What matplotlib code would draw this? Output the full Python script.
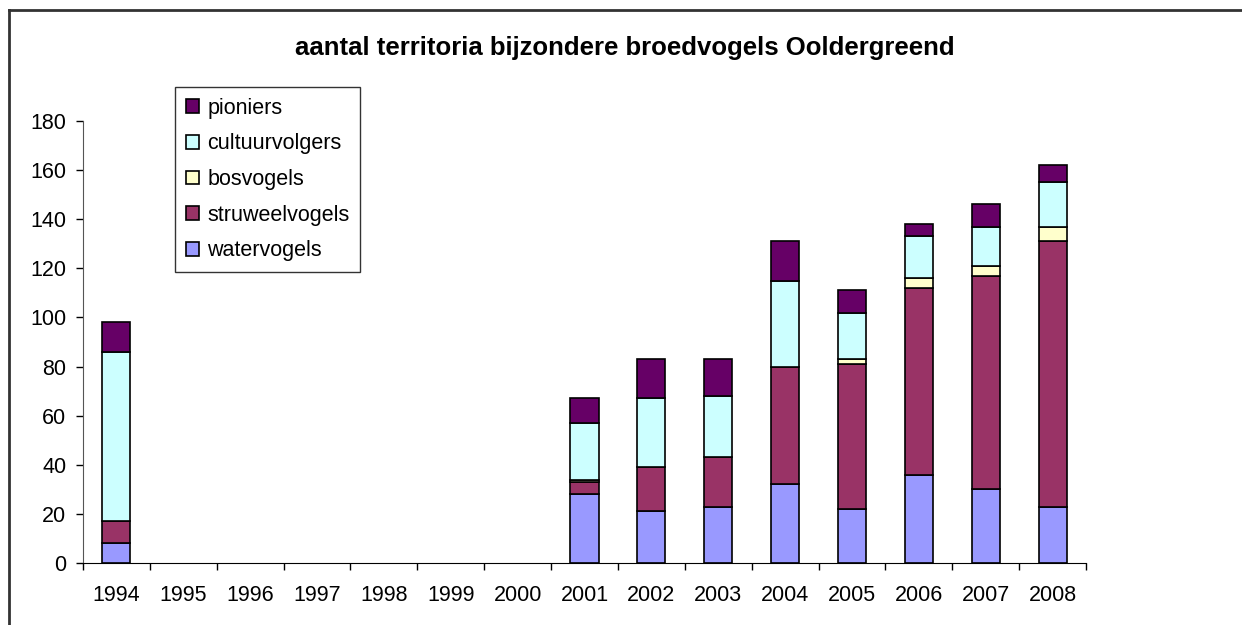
import numpy as np
import matplotlib
matplotlib.use("Agg")
import matplotlib.pyplot as plt
from matplotlib.patches import Patch
from matplotlib.lines import Line2D

plt.rcParams['font.family'] = ['Liberation Sans', 'DejaVu Sans']

# data
years = ["1994", "1995", "1996", "1997", "1998", "1999", "2000",
         "2001", "2002", "2003", "2004", "2005", "2006", "2007", "2008"]
watervogels = [8, 0, 0, 0, 0, 0, 0, 28, 21, 23, 32, 22, 36, 30, 23]
struweelvogels = [9, 0, 0, 0, 0, 0, 0, 5, 18, 20, 48, 59, 76, 87, 108]
bosvogels = [0, 0, 0, 0, 0, 0, 0, 1, 0, 0, 0, 2, 4, 4, 6]
cultuurvolgers = [69, 0, 0, 0, 0, 0, 0, 23, 28, 25, 35, 19, 17, 16, 18]
pioniers = [12, 0, 0, 0, 0, 0, 0, 10, 16, 15, 16, 9, 5, 9, 7]

series = [
    ("watervogels", watervogels, "#9999FF"),
    ("struweelvogels", struweelvogels, "#993366"),
    ("bosvogels", bosvogels, "#FFFFCC"),
    ("cultuurvolgers", cultuurvolgers, "#CCFFFF"),
    ("pioniers", pioniers, "#660066"),
]

fig = plt.figure(figsize=(12.42, 6.25), dpi=100)
ax = fig.add_axes([83 / 1242, 1 - 563 / 625, 1003 / 1242, 442 / 625])

x = np.arange(len(years))
bottom = np.zeros(len(years))
for name, vals, col in series:
    vals = np.array(vals, dtype=float)
    m = vals > 0
    ax.bar(x[m], vals[m], bottom=bottom[m], width=0.42, color=col,
           edgecolor="black", linewidth=1.2)
    bottom += vals

ax.set_xlim(-0.5, len(years) - 0.5)
ax.set_ylim(0, 180)
ax.set_yticks(range(0, 181, 20))
ax.set_xticks(x)
ax.set_xticklabels(years)
ax.set_xticks(np.arange(-0.5, len(years), 1), minor=True)
ax.tick_params(axis="x", which="major", length=0, pad=16, labelsize=15.5)
ax.tick_params(axis="x", which="minor", length=5, width=1, direction="out")
ax.tick_params(axis="y", length=5, width=1, pad=7, labelsize=15.5)
for s in ["top", "right"]:
    ax.spines[s].set_visible(False)
ax.spines["left"].set_color("#555555")

fig.text(625 / 1242, 1 - 48 / 625, "aantal territoria bijzondere broedvogels Ooldergreend",
         ha="center", va="center", fontsize=18.5, fontweight="bold")

handles = [Patch(facecolor=c, edgecolor="black", linewidth=1.2, label=n)
           for n, v, c in series[::-1]]
leg = fig.legend(handles=handles, loc="upper left",
                 bbox_to_anchor=(175 / 1242, 1 - 87 / 625),
                 fontsize=15.5, fancybox=False, frameon=True,
                 handlelength=0.6, handleheight=0.6, handletextpad=0.4,
                 labelspacing=0.68, borderpad=0.5, borderaxespad=0)
leg.get_frame().set_edgecolor("black")
leg.get_frame().set_linewidth(1)

# outer chart frame
fig.add_artist(Line2D([9 / 1242, 9 / 1242], [0, 1 - 10 / 625],
                      transform=fig.transFigure, color="#333333", lw=2))
fig.add_artist(Line2D([9 / 1242, 1], [1 - 10 / 625, 1 - 10 / 625],
                      transform=fig.transFigure, color="#333333", lw=2))

fig.savefig("out.png", dpi=100)
